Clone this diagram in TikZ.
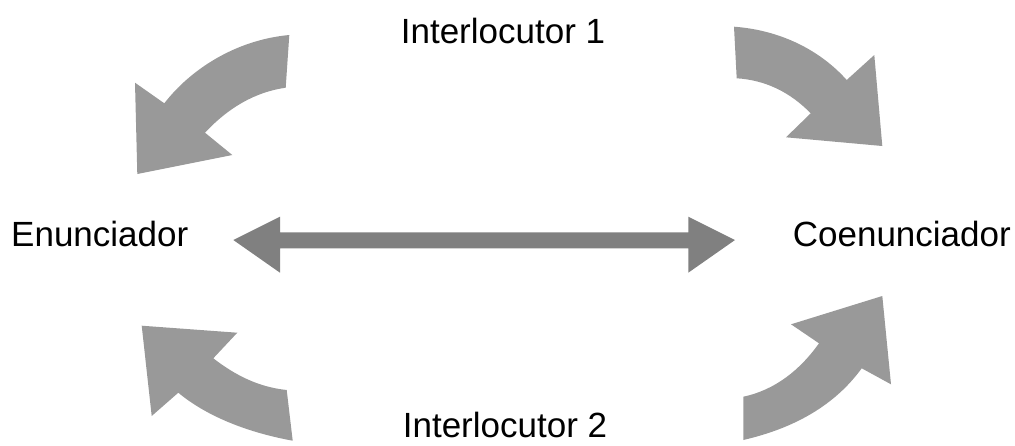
\documentclass[tikz,border=0pt]{standalone}
\usepackage{fontspec}
\setmainfont{Liberation Sans}
\begin{document}
\begin{tikzpicture}[x=1pt,y=-1pt]
\tikzset{lbl/.style={font=\fontsize{35}{40}\selectfont, inner sep=0pt},
  curv/.style={fill=black!40, draw=none},
  dbl/.style={fill=black!50, draw=none}}
\useasboundingbox (0,0) rectangle (1015,445);
\node[lbl, anchor=base] (i1) at (503,43.3) {Interlocutor 1};
\node[lbl, anchor=base] (i2) at (505,437.5) {Interlocutor 2};
\node[lbl, anchor=base west] (en) at (11,246.7) {Enunciador};
\node[lbl, anchor=base east] (co) at (1011,246.7) {Coenunciador};
% double arrow
\fill[dbl] (233.3,240) -- (280,216.7) -- (280,232.3) -- (688.3,232.3) -- (688.3,216.7)
  -- (735,240) -- (688.3,272.7) -- (688.3,248.3) -- (280,248.3) -- (280,272.7) -- cycle;
% top-left
\fill[curv] (289.3,35) .. controls (235,40) and (190,70) .. (164.3,103.3)
  -- (135,82.7) -- (137.3,174) -- (232.3,155) -- (205,132.7)
  .. controls (228,108) and (255,92) .. (285.7,87.7) -- cycle;
% top-right
\fill[curv] (734,26.7) .. controls (780,30) and (820,50) .. (846.7,80)
  -- (874.3,55) -- (882.3,146) -- (786,137.3) -- (810.7,113.3)
  .. controls (790,92) and (765,80) .. (736.7,78.3) -- cycle;
% bottom-left
\fill[curv] (292.7,440.7) .. controls (245,432) and (205,415) .. (178.3,392.7)
  -- (151.7,416) -- (141.7,325.7) -- (237.3,332.7) -- (213.3,358.3)
  .. controls (235,375) and (258,387) .. (286.7,390) -- cycle;
% bottom-right
\fill[curv] (743.3,440) .. controls (795,428) and (835,405) .. (861.7,368.3)
  -- (891,384.3) -- (882.3,296) -- (791,324.3) -- (819,343.3)
  .. controls (800,370) and (775,390) .. (743.3,396.7) -- cycle;
\end{tikzpicture}
\end{document}
